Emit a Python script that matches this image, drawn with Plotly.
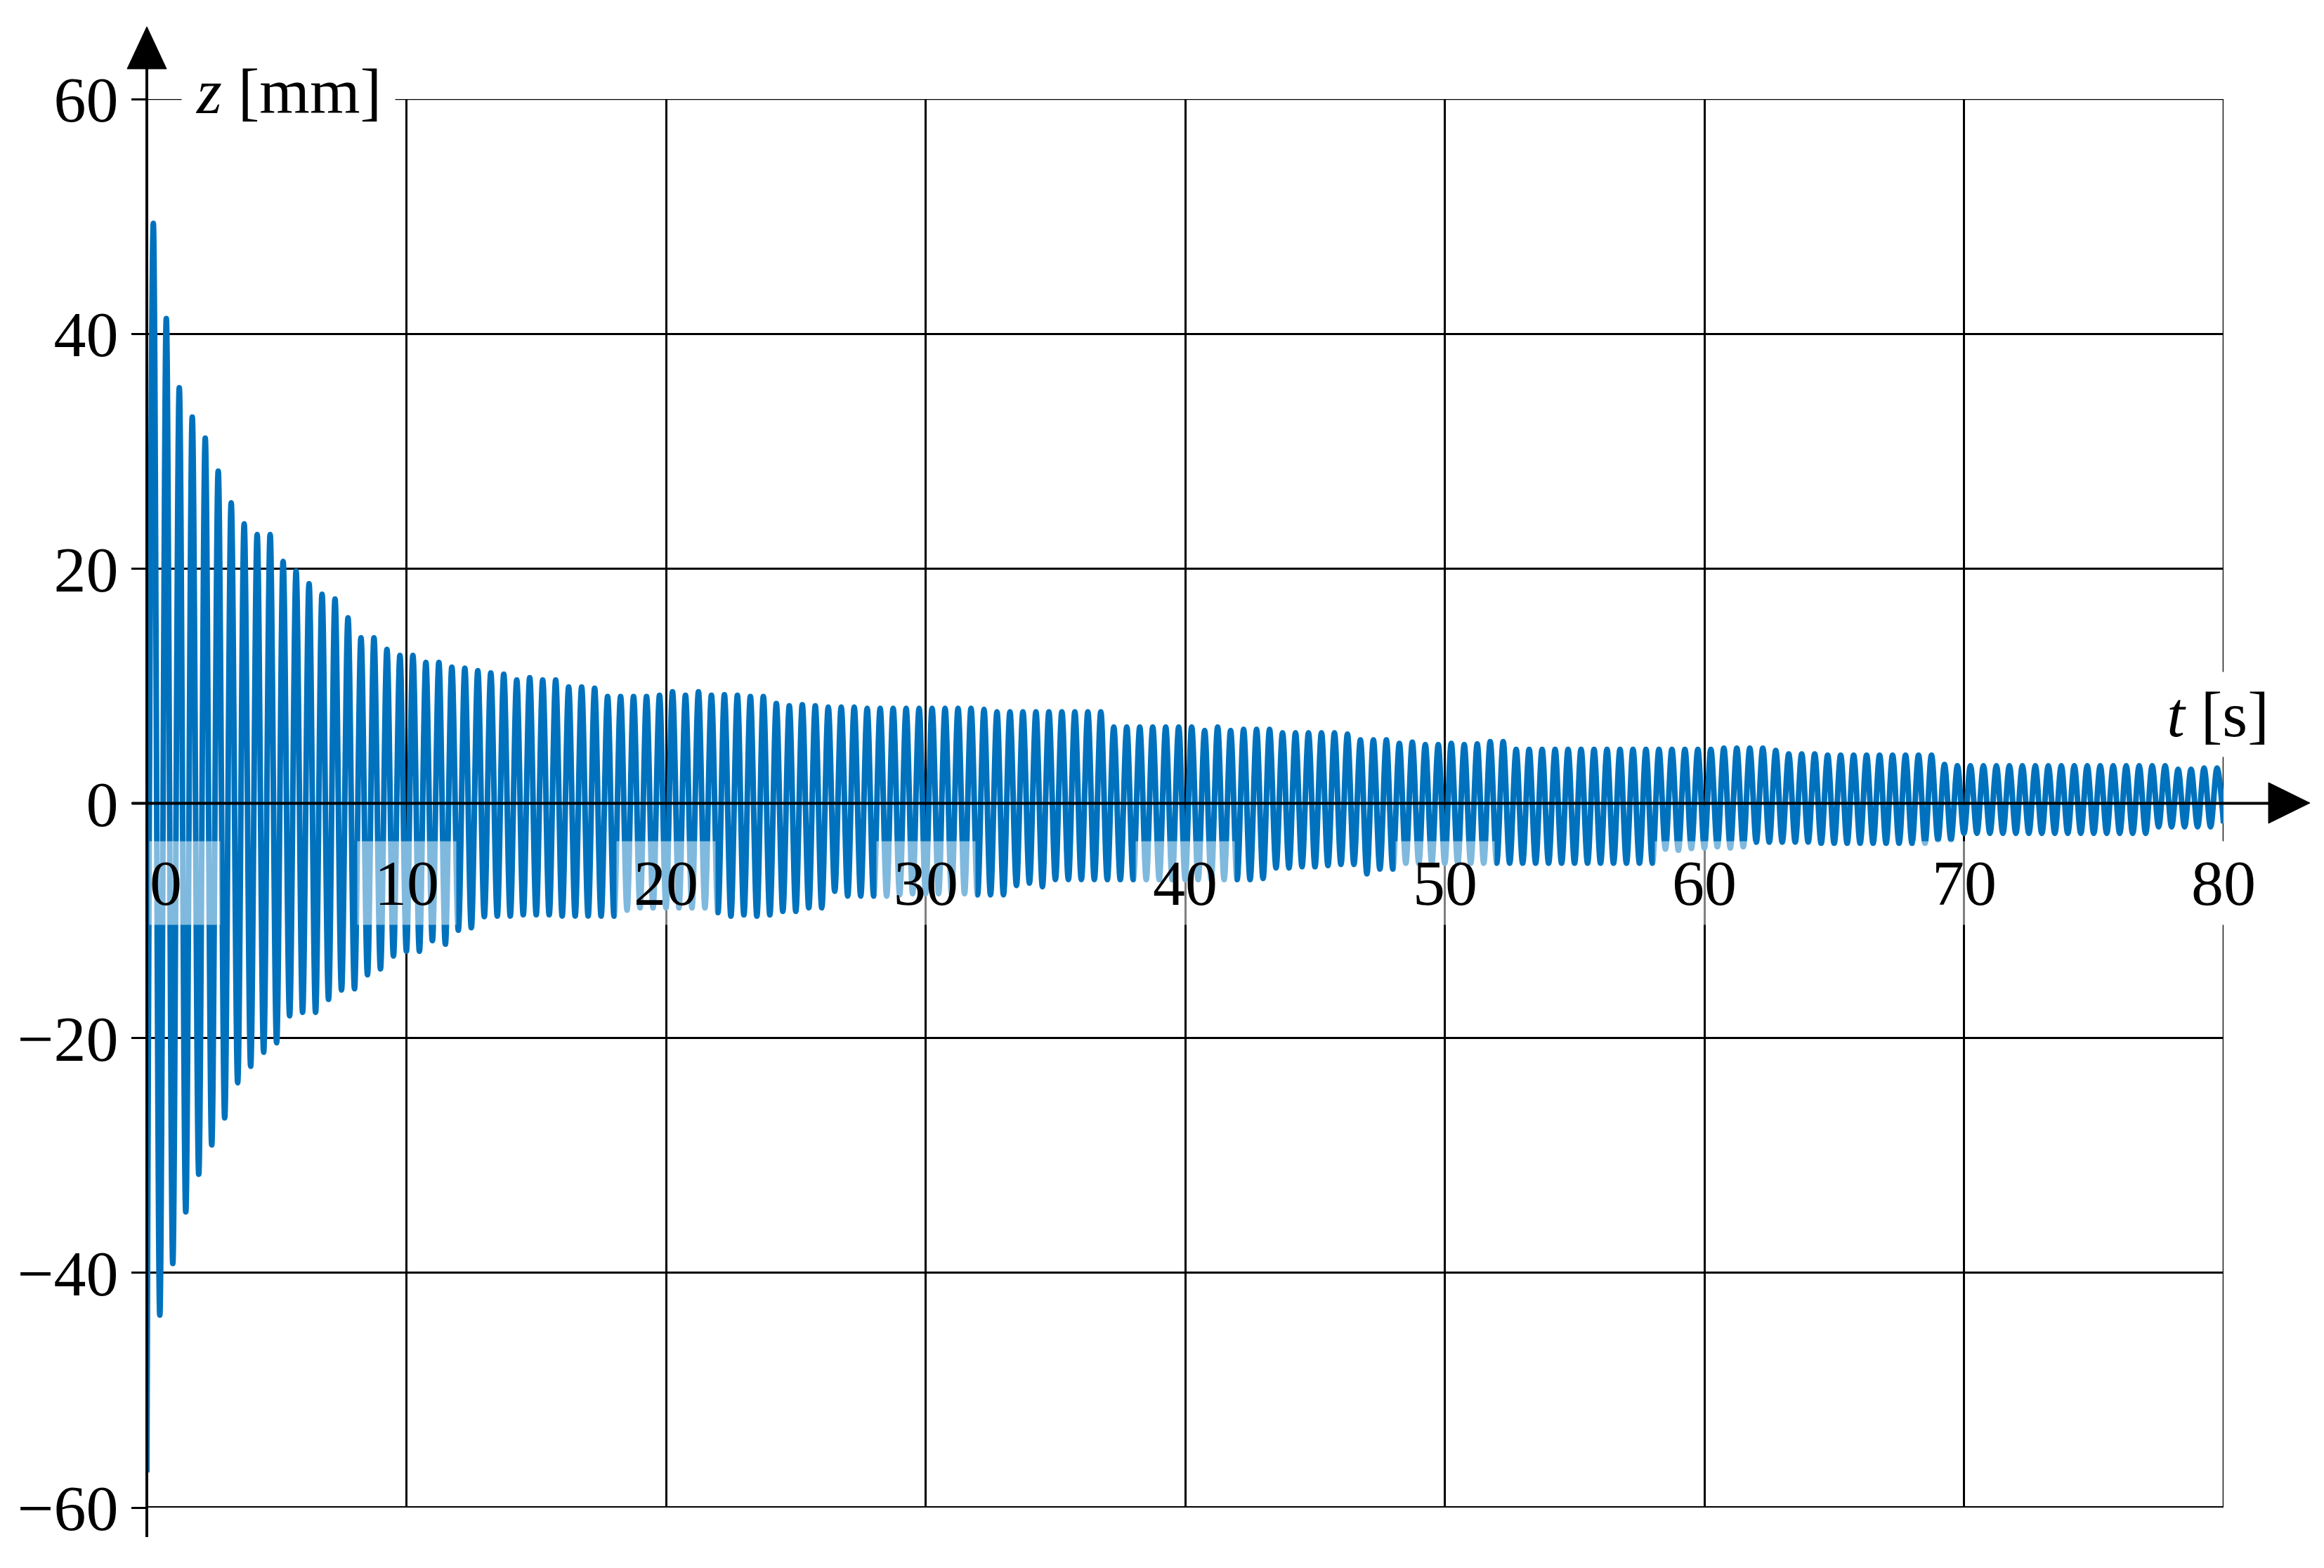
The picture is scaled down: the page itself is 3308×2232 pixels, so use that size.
import plotly.graph_objects as go

# ---- data -----------------------------------------------------------------
# successive maxima of z [mm] (one per oscillation, first at t = 0.25 s)
peak_z = [
    49.4, 41.3, 35.4, 32.9, 31.1, 28.3, 25.6, 23.8, 22.9, 22.9,
    20.6, 19.8, 18.7, 17.8, 17.4, 15.8, 14.1, 14.1, 13.1, 12.6,
    12.6, 12.0, 12.0, 11.6, 11.5, 11.3, 11.1, 11.0, 10.5, 10.7,
    10.5, 10.5, 9.9, 9.9, 9.8, 9.1, 9.1, 9.1, 9.1, 9.2,
    9.5, 9.2, 9.5, 9.2, 9.25, 9.2, 9.1, 9.1, 8.5, 8.3,
    8.4, 8.3, 8.2, 8.2, 8.2, 8.1, 8.1, 8.1, 8.1, 8.1,
    8.1, 8.1, 8.1, 8.1, 8.0, 7.8, 7.8, 7.8, 7.8, 7.8,
    7.8, 7.8, 7.8, 7.8, 6.5, 6.5, 6.5, 6.5, 6.5, 6.5,
    6.5, 6.2, 6.5, 6.2, 6.3, 6.3, 6.3, 6.0, 6.0, 6.0,
    6.0, 6.0, 5.9, 5.4, 5.4, 5.4, 5.1, 5.2, 5.0, 5.0,
    5.1, 5.0, 5.05, 5.25, 5.25, 4.6, 4.6, 4.6, 4.6, 4.6,
    4.6, 4.6, 4.6, 4.6, 4.6, 4.6, 4.6, 4.6, 4.6, 4.6,
    4.6, 4.7, 4.7, 4.7, 4.7, 4.5, 4.2, 4.2, 4.2, 4.1,
    4.1, 4.1, 4.1, 4.1, 4.1, 4.1, 4.1, 4.1, 3.3, 3.2,
    3.2, 3.2, 3.2, 3.2, 3.2, 3.2, 3.2, 3.2, 3.2, 3.2,
    3.2, 3.2, 3.2, 3.2, 3.2, 3.2, 2.9, 2.9, 3.0, 3.0,
]
# successive minima of z [mm] (first is the starting value at t = 0 s)
trough_z = [
    -57.0, -43.6, -39.2, -34.8, -31.6, -29.1, -26.8, -23.8, -22.4, -21.2,
    -20.4, -18.1, -17.8, -17.8, -16.7, -15.9, -15.8, -14.6, -14.1, -13.0,
    -12.6, -12.6, -11.7, -12.0, -10.8, -10.6, -9.65, -9.6, -9.6, -9.5,
    -9.5, -9.5, -9.6, -9.6, -9.6, -9.6, -9.6, -9.1, -8.9, -8.9,
    -8.9, -8.9, -8.9, -8.9, -9.3, -9.6, -9.5, -9.6, -9.5, -9.2,
    -9.2, -8.9, -8.9, -7.5, -7.9, -7.9, -7.9, -7.9, -7.8, -7.7,
    -7.7, -7.7, -7.7, -7.7, -7.8, -7.8, -7.8, -7.0, -6.8, -7.1,
    -6.5, -6.5, -6.5, -6.5, -6.5, -6.5, -6.5, -6.5, -6.5, -6.5,
    -6.5, -6.5, -6.5, -6.5, -6.5, -6.5, -6.4, -5.5, -5.5, -5.4,
    -5.4, -5.3, -5.2, -5.2, -6.0, -5.6, -5.6, -5.1, -5.1, -5.1,
    -5.1, -5.1, -5.1, -5.1, -5.1, -5.1, -5.1, -5.1, -5.1, -5.1,
    -5.1, -5.1, -5.1, -5.1, -5.1, -5.1, -5.1, -3.9, -4.0, -3.85,
    -3.8, -3.7, -3.8, -3.7, -3.3, -3.3, -3.3, -3.3, -3.3, -3.4,
    -3.4, -3.4, -3.4, -3.4, -3.4, -3.4, -3.4, -3.4, -3.1, -3.1,
    -2.56, -2.56, -2.56, -2.56, -2.56, -2.56, -2.56, -2.56, -2.56, -2.56,
    -2.56, -2.56, -2.56, -2.56, -2.56, -2.0, -2.0, -2.0, -2.0, -2.0,
    -1.7,
]
EXTREMUM_STEP_S = 0.25          # time between a minimum and the next maximum
x_tick_values = [0, 10, 20, 30, 40, 50, 60, 70, 80]
x_tick_labels = ["0", "10", "20", "30", "40", "50", "60", "70", "80"]
y_tick_values = [-60, -40, -20, 0, 20, 40, 60]

# interleave minima and maxima into one time series
z = []
for lo, hi in zip(trough_z, peak_z):
    z.append(lo)
    z.append(hi)
z.append(trough_z[-1])
t = [i * EXTREMUM_STEP_S for i in range(len(z))]

# ---- figure ----------------------------------------------------------------
OFF = 8                       # page body margin
W, H = 3300, 2224
L, T = 201, 133
PW, PH = 2956, 2005
R, B = W - L - PW, H - T - PH
FONT = "Liberation Serif, Times New Roman, serif"
FS = 92
BLUE = "#0072bd"


def px(xp):      # screen pixel -> paper x
    return (xp - OFF - L) / PW


def py(yp):      # screen pixel -> paper y
    return (OFF + T + PH - yp) / PH


fig = go.Figure()
fig.add_trace(go.Scatter(
    x=t, y=z, mode="lines",
    line=dict(color=BLUE, width=8, shape="spline", smoothing=1.0),
    hoverinfo="skip", showlegend=False,
))

shapes = [
    dict(type="line", xref="x", yref="y", x0=80, x1=80, y0=-60, y1=60,
         line=dict(color="black", width=2.5), layer="below"),
    dict(type="line", xref="x", yref="y", x0=0, x1=80, y0=60, y1=60,
         line=dict(color="black", width=2.5), layer="below"),
    dict(type="line", xref="paper", yref="y", x0=0, x1=1, y0=-60, y1=-60,
         line=dict(color="black", width=4), layer="above"),
    dict(type="line", xref="paper", yref="paper", x0=0, x1=0,
         y0=py(2188), y1=py(96), line=dict(color="black", width=4), layer="above"),
    dict(type="path", xref="paper", yref="paper",
         path=f"M {px(181)},{py(98)} L {px(209)},{py(38)} L {px(237)},{py(98)} Z",
         fillcolor="black", line=dict(color="black", width=1), layer="above"),
    dict(type="line", xref="paper", yref="y", x0=px(188), x1=px(3232),
         y0=0, y1=0, line=dict(color="black", width=4), layer="above"),
    dict(type="path", xref="paper", yref="paper",
         path=f"M {px(3229)},{py(1143 - 29)} L {px(3288)},{py(1143)} L {px(3229)},{py(1143 + 29)} Z",
         fillcolor="black", line=dict(color="black", width=1), layer="above"),
]

annotations = []
for v, lab in zip(x_tick_values, x_tick_labels):
    if v == 0:
        annotations.append(dict(
            x=0, y=-6.8, xref="x", yref="y", text=lab, showarrow=False,
            font=dict(family=FONT, size=FS, color="black"),
            bgcolor="rgba(255,255,255,0.5)", width=100, height=118, borderpad=0,
            xanchor="left", yanchor="middle", align="left", xshift=3,
        ))
        continue
    annotations.append(dict(
        x=v, y=-6.8, xref="x", yref="y", text=lab, showarrow=False,
        font=dict(family=FONT, size=FS, color="black"),
        bgcolor="rgba(255,255,255,1)" if v == 80 else "rgba(255,255,255,0.5)",
        width=140, height=118, borderpad=0, xanchor="center", yanchor="middle",
    ))
annotations.append(dict(
    x=px(410), y=py(130), xref="paper", yref="paper", text="<i>z</i> [mm]",
    showarrow=False, font=dict(family=FONT, size=FS, color="black"),
    bgcolor="white", width=303, height=112, borderpad=0,
    xanchor="center", yanchor="middle",
))
annotations.append(dict(
    x=px(3157), y=py(1017), xref="paper", yref="paper", text="<i>t</i> [s]",
    showarrow=False, font=dict(family=FONT, size=FS, color="black"),
    bgcolor="white", width=150, height=120, borderpad=0,
    xanchor="center", yanchor="middle",
))

fig.update_layout(
    width=W, height=H,
    margin=dict(l=L, r=R, t=T, b=B, autoexpand=False),
    paper_bgcolor="white", plot_bgcolor="white",
    showlegend=False,
    shapes=shapes, annotations=annotations,
    xaxis=dict(range=[0, 80], tickvals=x_tick_values, showticklabels=False,
               showgrid=True, gridcolor="black", gridwidth=2.5,
               zeroline=False, showline=False, ticks=""),
    yaxis=dict(range=[-60, 60], tickvals=y_tick_values,
               showgrid=True, gridcolor="black", gridwidth=2.5,
               zeroline=False, showline=False,
               ticks="outside", ticklen=21, tickwidth=2.5, tickcolor="black",
               tickfont=dict(family=FONT, size=FS, color="black")),
)

fig.write_html("out.html")
